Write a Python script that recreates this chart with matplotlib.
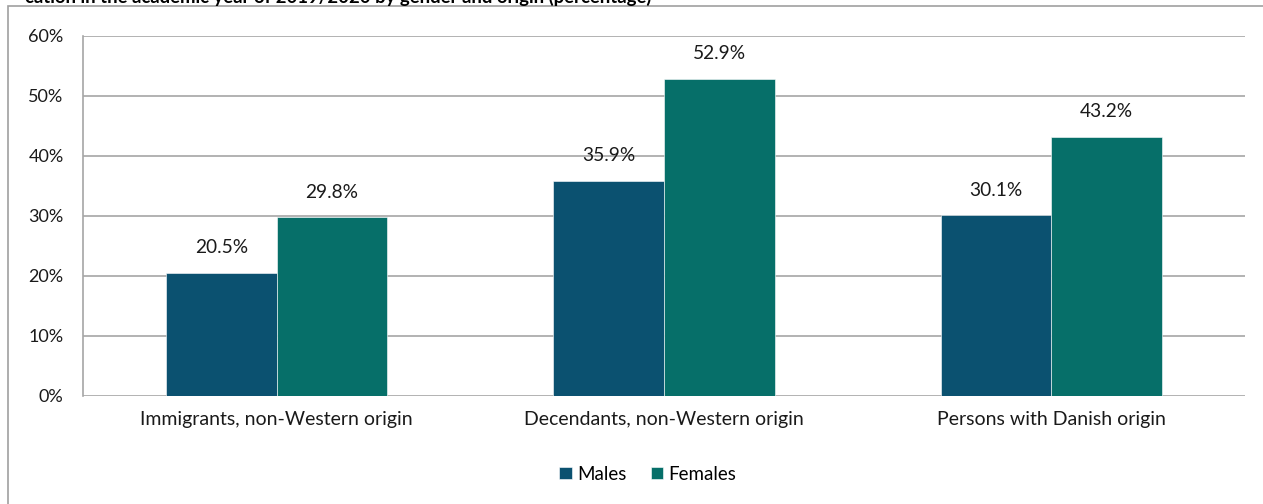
import matplotlib
matplotlib.use("Agg")
import matplotlib.pyplot as plt
import numpy as np
from matplotlib.patches import Rectangle
from matplotlib.ticker import FuncFormatter, MultipleLocator

plt.rcParams['font.family'] = ['Lato', 'DejaVu Sans']

categories = ["Immigrants, non-Western origin",
              "Decendants, non-Western origin",
              "Persons with Danish origin"]
males = [20.5, 35.9, 30.1]
females = [29.8, 52.9, 43.2]
series_names = ["Males", "Females"]
colors = ["#0B5170", "#066F69"]
title = "cation in the academic year of 2019/2020 by gender and origin (percentage)"

W, H = 1263, 504
fig = plt.figure(figsize=(W / 100, H / 100), dpi=100)

# outer chart frame (only left and top edges fall inside the canvas)
fig.patches.append(Rectangle((8 / W, -0.1), 1.2, 1 - 6 / H + 0.1,
                             transform=fig.transFigure, fill=False,
                             edgecolor="#A0A0A0", linewidth=1.2))

fig.text(25 / W, 1 - 3 / H, title, fontsize=13.3, fontweight="bold",
         va="baseline", ha="left", color="#000000")

ax = fig.add_axes([83 / W, 1 - 396 / H, (1245 - 83) / W, 360 / H])

x = np.arange(len(categories))
bw = 0.286
b1 = ax.bar(x - bw / 2, males, bw, color=colors[0], label=series_names[0],
            edgecolor="white", linewidth=0.4, zorder=3)
b2 = ax.bar(x + bw / 2, females, bw, color=colors[1], label=series_names[1],
            edgecolor="white", linewidth=0.4, zorder=3)

for bars, vals in ((b1, males), (b2, females)):
    for rect, v in zip(bars, vals):
        ax.annotate(f"{v:.1f}%", (rect.get_x() + rect.get_width() / 2, v),
                    xytext=(0, 12), textcoords="offset points",
                    ha="center", va="bottom", fontsize=13.8, color="#1a1a1a")

ax.set_xlim(-0.5, len(categories) - 0.5)
ax.set_ylim(0, 60)
ax.yaxis.set_major_locator(MultipleLocator(10))
ax.yaxis.set_major_formatter(FuncFormatter(lambda v, p: f"{v:.0f}%"))
ax.grid(axis="y", color="#A6A6A6", linewidth=1.2, zorder=0)
ax.set_axisbelow(True)

for s in ("top", "right", "bottom"):
    ax.spines[s].set_visible(False)
ax.spines["left"].set_color("#A6A6A6")
ax.spines["left"].set_linewidth(1.2)

ax.set_xticks(x)
ax.set_xticklabels(categories, fontsize=14, color="#1a1a1a")
ax.tick_params(axis="x", length=0, pad=11)
ax.tick_params(axis="y", length=0, pad=14, labelsize=13, labelcolor="#1a1a1a")

leg = fig.legend(handles=[b1, b2], labels=series_names, loc="center",
                 bbox_to_anchor=(648 / W, 1 - 474 / H), ncol=2, frameon=False,
                 fontsize=13.5, handlelength=0.65, handleheight=0.65,
                 handletextpad=0.3, columnspacing=1.3)

fig.savefig("out.png", dpi=100)
